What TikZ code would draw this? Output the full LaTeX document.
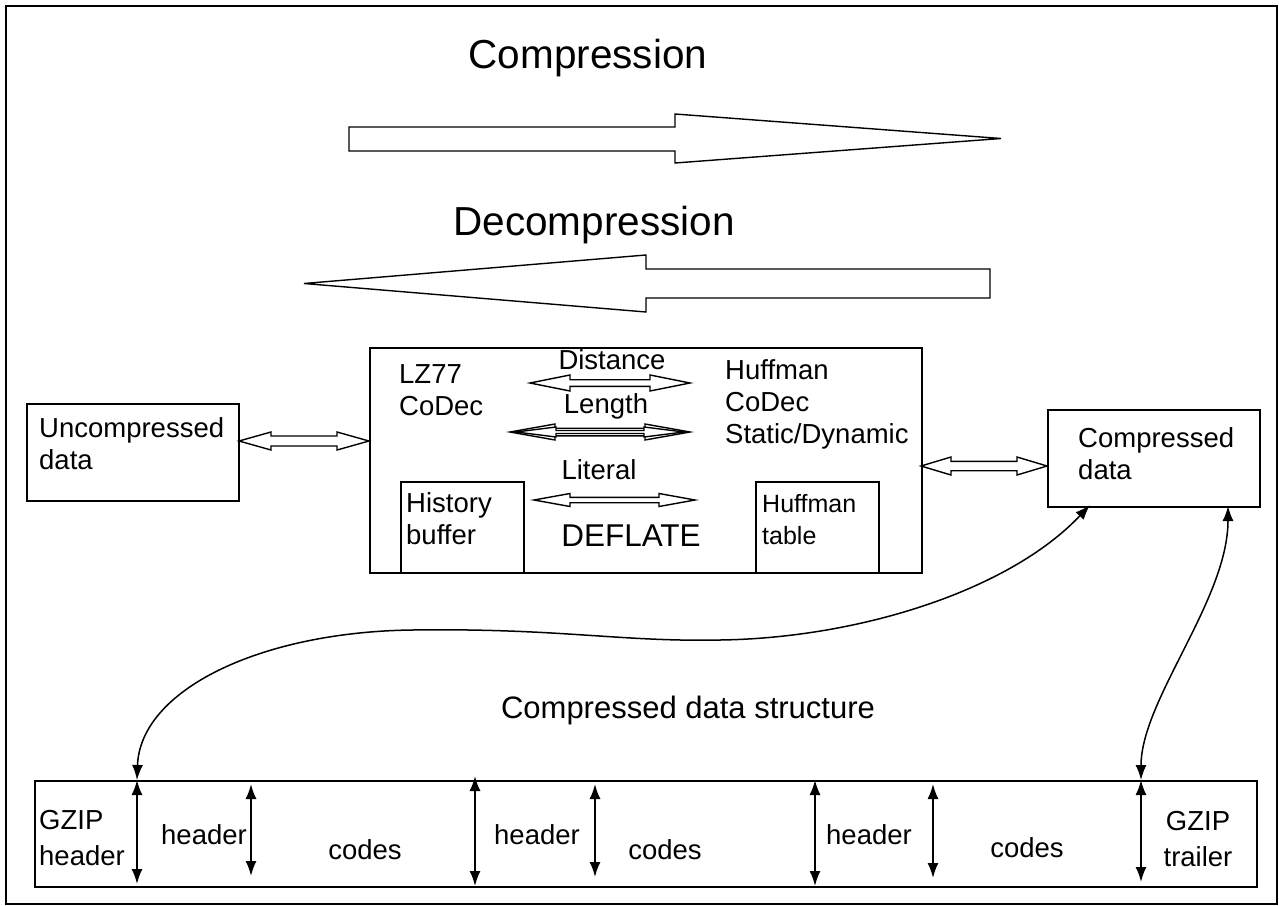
\documentclass[tikz,border=0pt]{standalone}
\usepackage{fontspec}
\setmainfont{Liberation Sans}
\usetikzlibrary{arrows.meta}
\newcommand\hdarr[6]{% x1 x2 y shafthalf headhalf headlen
  \draw[hol] (#1,#3) -- ({#1+#6},{#3-#5}) -- ({#1+#6},{#3-#4}) -- ({#2-#6},{#3-#4}) -- ({#2-#6},{#3-#5}) -- (#2,#3) -- ({#2-#6},{#3+#5}) -- ({#2-#6},{#3+#4}) -- ({#1+#6},{#3+#4}) -- ({#1+#6},{#3+#5}) -- cycle;}
\tikzset{
  box/.style={draw, line width=1.8pt, inner sep=0pt, anchor=north west},
  hol/.style={draw, line width=1.4pt, line join=miter, fill=white},
  lbl/.style={inner sep=0pt, align=left, font=\fontsize{27.5}{32}\selectfont},
  big/.style={inner sep=0pt, font=\fontsize{40.5}{48}\selectfont},
  tipab/.style={line width=1.8pt, {Latex[length=15pt,width=11pt]}-{Latex[length=15pt,width=11pt]}},
  curv/.style={line width=1.5pt, {Latex[length=15pt,width=11pt]}-{Latex[length=15pt,width=11pt]}},
}
\begin{document}
\begin{tikzpicture}[x=1pt,y=-1pt]
\useasboundingbox (0,0) rectangle (1279,905);
\draw[line width=1.8pt] (6,6) rectangle (1277,904);

% titles and big arrows
\node[big] (tcomp) at (588,58) {Compression};
\draw[hol] (349,127) -- (675,127) -- (675,114) -- (1001,138.5) -- (675,163) -- (675,151) -- (349,151) -- cycle;
\node[big] (tdecomp) at (594,225) {Decompression};
\draw[hol] (990,269) -- (646,269) -- (646,255) -- (304,283.5) -- (646,312) -- (646,298) -- (990,298) -- cycle;

% boxes
\node[box, minimum width=552pt, minimum height=225pt] (defl) at (369,347) {};
\node[box, minimum width=123pt, minimum height=91pt] (hist) at (400,481) {};
\node[box, minimum width=123pt, minimum height=91pt] (htab) at (755,481) {};
\node[box, minimum width=212pt, minimum height=97pt] (unc) at (26,403) {};
\node[box, minimum width=212pt, minimum height=97pt] (cmp) at (1047,409) {};
\node[box, minimum width=1222pt, minimum height=106pt] (strip) at (34,780) {};

% texts in boxes
\node[lbl, anchor=west] (tlz) at (399,390) {LZ77\\CoDec};
\node[lbl, anchor=west] (thuf) at (725,404) {Huffman\\CoDec\\Static/Dynamic};
\node[lbl] (tdist) at (612,360) {Distance};
\node[lbl] (tlen) at (606,406) {Length};
\node[lbl] (tlit) at (599,470) {Literal};
\node[lbl, anchor=west] (thist) at (406,519) {History\\buffer};
\node[lbl, anchor=west, font=\fontsize{25}{32}\selectfont] (thtab) at (762,520) {Huffman\\table};
\node[inner sep=0pt, font=\fontsize{31.5}{36}\selectfont] (tdef) at (631,536) {DEFLATE};
\node[lbl, anchor=west] (tunc) at (39,444) {Uncompressed\\data};
\node[lbl, anchor=west] (tcmp) at (1078,454) {Compressed\\data};
\node[inner sep=0pt, font=\fontsize{31}{36}\selectfont] (tstruct) at (688,710) {Compressed data structure};

% hollow double arrows
\hdarr{239}{369}{441}{5}{9}{32}
\hdarr{921}{1047}{466}{4.7}{9}{30}
\hdarr{530}{690}{383}{3.3}{8}{40}
\hdarr{510}{690}{432}{3.8}{8}{45}
\hdarr{516}{684}{432}{1.5}{5}{40}
\hdarr{534}{695}{500}{2.7}{6.5}{36}

% strip contents
\node[lbl, anchor=west, font=\fontsize{27.5}{36}\selectfont] (tgh) at (39,838) {GZIP\\header};
\node[lbl] (th1) at (204,835) {header};
\node[lbl] (tc1) at (365,850) {codes};
\node[lbl] (th2) at (537,835) {header};
\node[lbl] (tc2) at (665,850) {codes};
\node[lbl] (th3) at (869,835) {header};
\node[lbl] (tc3) at (1027,848) {codes};
\node[lbl, align=center, font=\fontsize{27.5}{36}\selectfont] (tgt) at (1198,839) {GZIP\\trailer};

\draw[tipab] (137,780) -- (137,884);
\draw[tipab] (251,784) -- (251,876);
\draw[tipab] (475,776) -- (475,886);
\draw[tipab] (595,784) -- (595,877);
\draw[tipab] (815,780) -- (815,886);
\draw[tipab] (933,784) -- (933,878);
\draw[tipab] (1141,780) -- (1141,882);

% curves
\coordinate (s1) at (137,780);
\coordinate (e1) at (1090,505);
\coordinate (s2) at (1141,780);
\coordinate (e2) at (1228,506);
\draw[curv] (s1) .. controls (140,690) and (260,632) .. (412,630) .. controls (560,628) and (620,642) .. (720,640) .. controls (860,638) and (1010,590) .. (e1);
\draw[curv] (s2) .. controls (1141,700) and (1228,600) .. (e2);
\end{tikzpicture}
\end{document}
